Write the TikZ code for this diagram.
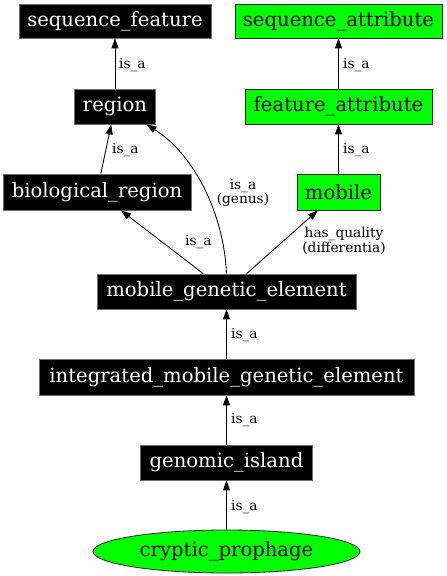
\documentclass[tikz,border=0pt]{standalone}
\usepackage{fontspec}
\setmainfont{DejaVu Serif}
\usetikzlibrary{arrows.meta,shapes.geometric}
\definecolor{gvgreen}{RGB}{0,255,0}
\definecolor{gvgray}{RGB}{110,110,110}
\begin{document}
\begin{tikzpicture}[x=1pt,y=-1pt,
  blk/.style={rectangle, fill=black, draw=gvgray, text=white, font=\fontsize{19.6}{23}\selectfont, inner sep=0pt, line width=0.8pt},
  grn/.style={rectangle, fill=gvgreen, draw=black!85, text=black, font=\fontsize{19.6}{23}\selectfont, inner sep=0pt, line width=0.8pt},
  lbl/.style={font=\fontsize{13.7}{12.5}\selectfont, inner sep=0pt, align=center},
  edge/.style={-{Triangle[length=10pt,width=7pt]}, line width=0.85pt}]
\useasboundingbox (0,0) rectangle (447,576);
% nodes
\node[blk, minimum width=192pt, minimum height=34pt] (sf) at (115,21) {sequence\_feature};
\node[grn, minimum width=207pt, minimum height=34pt] (sa) at (338.5,21) {sequence\_attribute};
\node[blk, minimum width=81pt, minimum height=35pt] (region) at (115,106.5) {region};
\node[grn, minimum width=187pt, minimum height=35pt] (fa) at (338.5,106.5) {feature\_attribute};
\node[blk, minimum width=188pt, minimum height=36pt] (bio) at (97,192) {biological\_region};
\node[grn, minimum width=83pt, minimum height=36pt] (mobile) at (338.5,192) {mobile};
\node[blk, minimum width=259pt, minimum height=35pt] (mge) at (226.5,291.5) {mobile\_genetic\_element};
\node[blk, minimum width=375pt, minimum height=36pt] (ime) at (226.5,377) {integrated\_mobile\_genetic\_element};
\node[blk, minimum width=172pt, minimum height=35pt] (gi) at (226.5,462.5) {genomic\_island};
\node[grn, ellipse, minimum width=267pt, minimum height=43pt] (cp) at (226.5,551.5) {cryptic\_prophage};
% edges
\draw[edge] (region.north) -- (sf.south);
\draw[edge] (fa) -- (sa);
\draw[edge] (mobile) -- (fa);
\draw[edge] (bio) -- (region);
\draw[edge] (mge) -- (bio);
\draw[edge] (mge) -- (mobile);
\draw[edge] (mge.north) .. controls (224,215) and (195,155) .. ([xshift=-9.5pt]region.south east);
\draw[edge] (ime) -- (mge);
\draw[edge] (gi) -- (ime);
\draw[edge] (cp) -- (gi);
% labels
\node[lbl, anchor=base west] (l1) at (119,68) {is\_a};
\node[lbl, anchor=base west] (l2) at (343,68) {is\_a};
\node[lbl, anchor=base west] (l3) at (112,153) {is\_a};
\node[lbl, anchor=base west] (l4) at (343,153) {is\_a};
\node[lbl] (l5) at (243,193) {is\_a\\(genus)};
\node[lbl, anchor=base west] (l6) at (185,245) {is\_a};
\node[lbl] (l7) at (344,241) {has\_quality\\(differentia)};
\node[lbl, anchor=base west] (l8) at (231,338) {is\_a};
\node[lbl, anchor=base west] (l9) at (231,423) {is\_a};
\node[lbl, anchor=base west] (l10) at (231,510) {is\_a};
\end{tikzpicture}
\end{document}
